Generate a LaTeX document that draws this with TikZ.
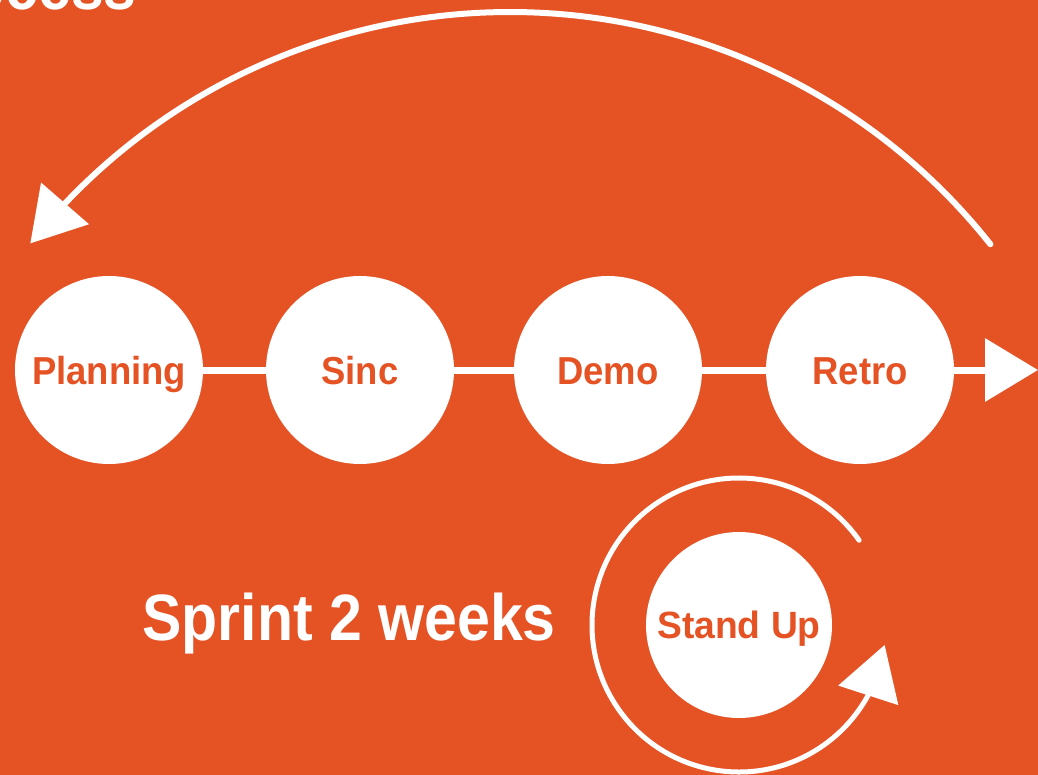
\documentclass[tikz,border=0pt]{standalone}
\usepackage{fontspec}
\setmainfont{Liberation Sans}
\usetikzlibrary{arrows.meta,bending}
\definecolor{bg}{HTML}{E55325}
\tikzset{
  stage/.style={circle,fill=white,minimum size=188pt,inner sep=0pt,text=bg,
    text height=28pt,text depth=0pt,font=\bfseries\fontsize{39}{39}\selectfont},
  link/.style={draw=white,line width=7pt},
  bigtip/.style={-{Triangle[length=53pt,width=62pt,flex]}},
  bigtext/.style={text=white,inner sep=0pt,font=\bfseries\fontsize{65.6}{66}\selectfont},
}
\begin{document}
\begin{tikzpicture}[x=1pt,y=1pt]
\useasboundingbox (0,0) rectangle (1038,-775);
\clip (0,0) rectangle (1038,-775);
\fill[bg] (0,0) rectangle (1038,-775);

% partially visible title
\node[bigtext,anchor=base east] (title) at (137,-10) {\scalebox{0.9}[1]{ocess}};

% stages
\node[stage] (plan)  at (109,-370) {\scalebox{0.935}[1]{Planning}};
\node[stage] (sinc)  at (360,-370) {\scalebox{0.935}[1]{Sinc}};
\node[stage] (demo)  at (608,-370) {\scalebox{0.935}[1]{Demo}};
\node[stage] (retro) at (860,-370) {\scalebox{0.935}[1]{Retro}};
\coordinate (lineend) at (1038,-370);

\draw[link] (plan) -- (sinc);
\draw[link] (sinc) -- (demo);
\draw[link] (demo) -- (retro);
\draw[link,bigtip] (retro) -- (lineend);

% big return arc
\coordinate (loopstart) at ([shift={(510,-625)}]38.4:613);
\draw[white,line width=6pt,line cap=round,bigtip]
  (loopstart) arc[start angle=38.4,end angle=141.5,radius=613];

% sprint label
\node[bigtext,text height=47pt,text depth=0pt] (sprint) at (349,-616.5)
  {\scalebox{0.9}[1]{Sprint 2 weeks}};

% stand up
\node[stage,minimum size=186pt,text height=27pt,font=\bfseries\fontsize{38}{38}\selectfont]
  (stand) at (739,-625) {\scalebox{0.98}[1]{Stand Up}};
\coordinate (sustart) at ([shift={(739,-625)}]35.2:147);
\draw[white,line width=5pt,line cap=round,bigtip]
  (sustart) arc[start angle=35.2,end angle=352.2,radius=147];
\end{tikzpicture}
\end{document}
